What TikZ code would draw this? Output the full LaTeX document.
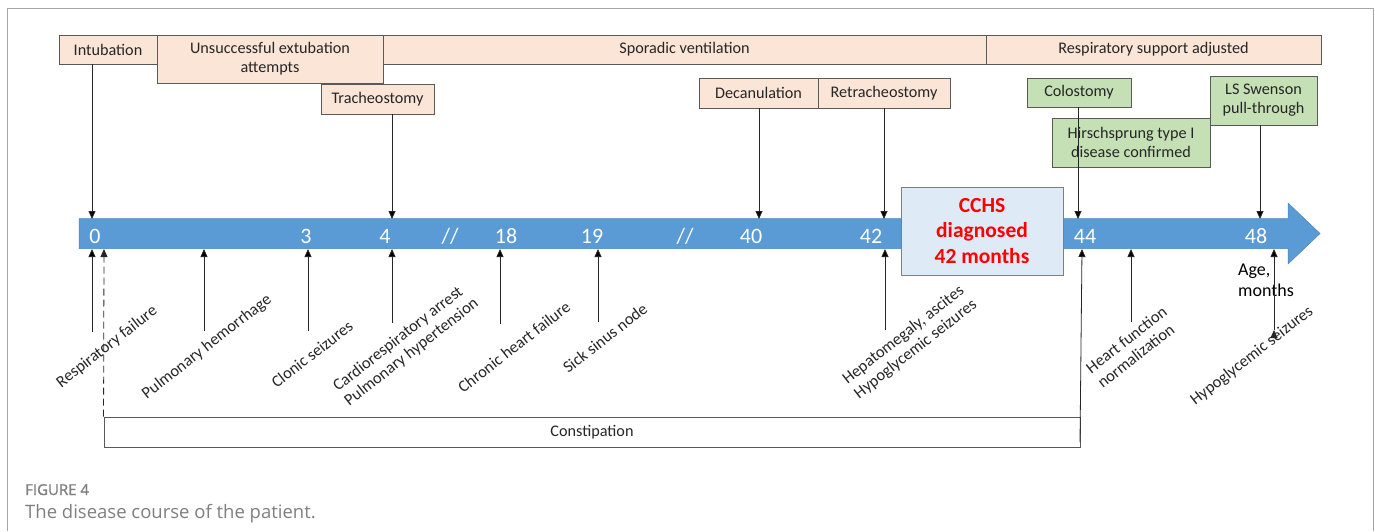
\documentclass[tikz,border=0pt]{standalone}
\usepackage{fontspec}
\setmainfont{Carlito}
\newfontfamily\capfont{Open Sans}
\newfontfamily\capbold{Open Sans}[FakeBold=1.2]
\usetikzlibrary{arrows.meta}

\definecolor{peach}{HTML}{FBE5D6}
\definecolor{leaf}{HTML}{C5E0B4}
\definecolor{sky}{HTML}{DEEBF7}
\definecolor{barblue}{HTML}{5B9BD5}
\definecolor{bardark}{HTML}{4A84BC}
\definecolor{edgegray}{HTML}{595959}
\definecolor{ink}{HTML}{262626}
\definecolor{capgray}{HTML}{7F7F7F}
\definecolor{framegray}{HTML}{A6A6A6}

\tikzset{
  box/.style={draw=edgegray, line width=0.9pt, text=ink, inner sep=2pt, align=center,
    font=\fontsize{16.2}{19}\selectfont},
  phase/.style={box, fill=peach, minimum height=29},
  event/.style={box, fill=peach, minimum height=30},
  surg/.style={box, fill=leaf},
  tick/.style={text=white, anchor=base, font=\fontsize{22}{24}\selectfont},
  sym/.style={rotate=38, align=left, text=ink, inner sep=0pt, font=\fontsize{16.5}{18.5}\selectfont},
  arr/.style={-{Triangle[length=8pt,width=7pt]}, line width=0.8pt, draw=ink},
}

\begin{document}
\begin{tikzpicture}[x=1pt, y=-1pt]
    \useasboundingbox (0,0) rectangle (1375,531);
    \draw[framegray, line width=1pt] (7,531) -- (7,8) -- (1373,8) -- (1373,531);

    % Phases (top row)
    \node[phase, minimum width=98] (intub) at (108,49.5) {Intubation};
    \node[phase, minimum width=603] (spor) at (684.5,49.5) {Sporadic ventilation};
    \node[phase, minimum width=335] (resp) at (1153.5,49.5) {Respiratory support adjusted};
    \node[phase, minimum width=226, minimum height=48] (extub) at (270,59) {Unsuccessful extubation\\attempts};

    % Procedures
    \node[event, minimum width=113] (trach) at (377.5,99) {Tracheostomy};
    \node[event, minimum width=119] (decan) at (758.5,93) {Decanulation};
    \node[event, minimum width=132] (retrach) at (884,93) {Retracheostomy};
    \node[surg, minimum width=104, minimum height=29] (colo) at (1079,92.5) {Colostomy};
    \node[surg, minimum width=107, minimum height=49] (swenson) at (1263.5,100.5) {LS Swenson\\pull-through};
    \node[surg, minimum width=158, minimum height=49] (hirsch) at (1131,142.5) {Hirschsprung type I\\disease confirmed};

    % Time axis (age, months)
    \fill[barblue, draw=bardark, line width=0.5pt] (79,218.5) -- (1288,218.5) -- (1288,203)
        -- (1320,233.5) -- (1288,264) -- (1288,248.5) -- (79,248.5) -- cycle;
    \node[tick] (t0) at (95,243) {0};
    \node[tick] (t3) at (306,243) {3};
    \node[tick] (t4) at (385,243) {4};
    \node[tick] (cut1) at (450,243) {//};
    \node[tick] (t18) at (506,243) {18};
    \node[tick] (t19) at (592,243) {19};
    \node[tick] (cut2) at (685,243) {//};
    \node[tick] (t40) at (751,243) {40};
    \node[tick] (t42) at (871,243) {42};
    \node[tick] (t44) at (1085,243) {44};
    \node[tick] (t48) at (1256,243) {48};
    \node[anchor=base west, align=left, inner sep=0pt, font=\fontsize{18}{20.5}\selectfont] (age) at (1238,296) {Age,\\months};

    \node[draw=capgray, line width=0.9pt, fill=sky, text=red, align=center, minimum width=162, minimum height=88,
        font=\bfseries\fontsize{21.5}{25.5}\selectfont] (cchs) at (982,231) {CCHS\\diagnosed\\42 months};

    % Points on the axis
    \coordinate (top0) at (92,219);
    \coordinate (top4) at (392,219);
    \coordinate (top40) at (759,219);
    \coordinate (top42) at (884,219);
    \coordinate (top44) at (1078,219);
    \coordinate (top48) at (1260,219);
    \coordinate (bot0) at (92,249);
    \coordinate (botc) at (104,249);
    \coordinate (bot2) at (204,249);
    \coordinate (bot3) at (308,249);
    \coordinate (bot4) at (392,249);
    \coordinate (bot18) at (500,249);
    \coordinate (bot19) at (598,249);
    \coordinate (bot42) at (885,249);
    \coordinate (bot44) at (1082,249);
    \coordinate (bot45) at (1131,249);
    \coordinate (bot48) at (1274,249);

    % Clinical events (below the axis)
    \node[sym] (resfail) at (107,347) {Respiratory failure};
    \node[sym] (pulhem) at (207,347) {Pulmonary hemorrhage};
    \node[sym] (clonic) at (312,354) {Clonic seizures};
    \node[sym] (cardio) at (406,345) {Cardiorespiratory arrest\\Pulmonary hypertension};
    \node[sym] (chf) at (514,347) {Chronic heart failure};
    \node[sym] (sick) at (605,338) {Sick sinus node};
    \node[sym] (hepato) at (910,342) {Hepatomegaly, ascites\\Hypoglycemic seizures};
    \node[sym] (heartfn) at (1132,347) {Heart function\\normalization};
    \node[sym] (hypo) at (1252,356) {Hypoglycemic seizures};

    \coordinate (f0) at (92,332);
    \coordinate (f2) at (204,331);
    \coordinate (f3) at (308,331);
    \coordinate (f4) at (392,323);
    \coordinate (f18) at (500,324);
    \coordinate (f19) at (598,322);
    \coordinate (f42) at (885,330);
    \coordinate (f44) at (1080,442);
    \coordinate (f45) at (1131,322);
    \coordinate (f48) at (1274,330);

    \node[draw=edgegray, line width=0.9pt, fill=white, minimum width=976, minimum height=30,
        font=\fontsize{16.2}{19}\selectfont, text=ink] (constip) at (592,432) {Constipation};

    % Arrows
    \path[arr]
        (intub.south -| top0) edge (top0)
        (trach.south -| top4) edge (top4)
        (decan.south -| top40) edge (top40)
        (retrach.south -| top42) edge (top42)
        (colo.south -| top44) edge (top44)
        (swenson.south -| top48) edge (top48)
        (f0) edge (bot0)
        (f2) edge (bot2)
        (f3) edge (bot3)
        (f4) edge (bot4)
        (f18) edge (bot18)
        (f19) edge (bot19)
        (f42) edge (bot42)
        (f44) edge (bot44)
        (f45) edge (bot45)
        (f48) edge (bot48);
    \draw[arr, dash pattern=on 7pt off 4pt] (constip.north west) -- (botc);

    % Caption
    \node[anchor=base west, inner sep=0pt, text=capgray, font=\capbold\fontsize{15}{18}\selectfont] (fig) at (25,495) {FIGURE 4};
    \node[anchor=base west, inner sep=0pt, text=capgray, font=\capfont\fontsize{18.5}{21}\selectfont] (caption) at (25,518) {The disease course of the patient.};
\end{tikzpicture}
\end{document}
